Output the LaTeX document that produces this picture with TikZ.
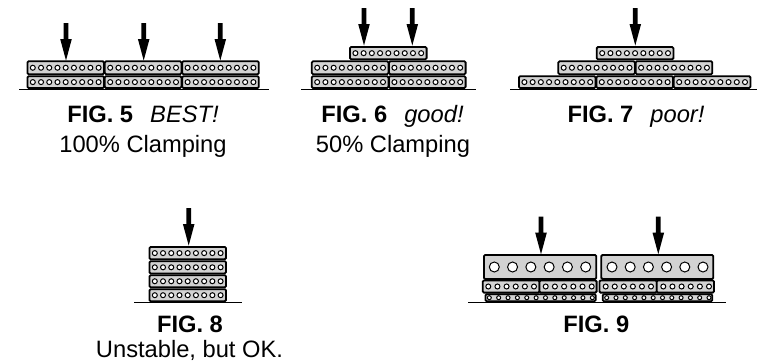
\documentclass[tikz,border=0pt]{standalone}
\usepackage{fontspec}
\setmainfont{Liberation Sans}
\definecolor{brickfill}{HTML}{D2D2D2}
\tikzset{
  x=1pt,y=-1pt,
  brick/.style={draw=black,fill=brickfill,line width=1.8pt,rounded corners=1.2pt},
  hole/.style={draw=black,fill=white,line width=1pt},
  ground/.style={draw=black,line width=1.5pt},
  figcap/.style={font=\fontsize{23.7}{28}\selectfont,anchor=base,inner sep=0pt,align=center}
}
% \brk{x0}{x1}{y0}{y1}{nholes}{first}{last}{r}
\newcommand{\brk}[8]{%
  \draw[brick] (#1,#3) rectangle (#2,#4);
  \pgfmathsetmacro{\hy}{(#3+#4)/2}
  \pgfmathsetmacro{\hstep}{(#7-#6)/(#5-1)}
  \foreach \i in {1,...,#5}{
    \pgfmathsetmacro{\hx}{#6+(\i-1)*\hstep}
    \draw[hole] (\hx,\hy) circle[radius=#8];
  }%
}
% standard 9-hole brick: left edge, top, bottom
\newcommand{\stdb}[3]{%
  \pgfmathsetmacro{\bxa}{#1}
  \pgfmathsetmacro{\bxb}{#1+76.6}
  \pgfmathsetmacro{\bha}{#1+5.4}
  \pgfmathsetmacro{\bhb}{#1+71.2}
  \brk{\bxa}{\bxb}{#2}{#3}{9}{\bha}{\bhb}{2.5}%
}
% arrow: x, top y
\newcommand{\press}[2]{%
  \fill[black] ({#1-2.4},#2) -- ({#1+2.4},#2) -- ({#1+2.4},{#2+16}) -- ({#1+5.8},{#2+16})
    -- (#1,{#2+37.5}) -- ({#1-5.8},{#2+16}) -- ({#1-2.4},{#2+16}) -- cycle;%
}
\begin{document}
\begin{tikzpicture}
\useasboundingbox (0,0) rectangle (764,362);
% FIG 5
\foreach \bx in {27.4,104.8,182.2}{\stdb{\bx}{61.3}{74.2}\stdb{\bx}{76.2}{88}}
\draw[ground] (19,89.4) -- (269,89.4);
\press{66}{23}\press{143.7}{23}\press{220.3}{23}
% FIG 6
\stdb{350}{47}{59.3}
\foreach \bx in {311.8,389}{\stdb{\bx}{61.3}{74.2}\stdb{\bx}{76.2}{88}}
\draw[ground] (301.3,89.4) -- (476,89.4);
\press{364}{8}\press{412.3}{8}
% FIG 7
\stdb{596.8}{47}{59.3}
\foreach \bx in {558.3,635.7}{\stdb{\bx}{61.3}{74.2}}
\foreach \bx in {519,596.4,673.8}{\stdb{\bx}{76.2}{88}}
\draw[ground] (510,89.4) -- (756.7,89.4);
\press{635.3}{8}
% FIG 8
\stdb{149.4}{247}{259.2}\stdb{149.4}{261.2}{273.4}\stdb{149.4}{275.2}{287.3}\stdb{149.4}{289.2}{301.2}
\draw[ground] (134,302.4) -- (242.3,302.4);
\press{188.7}{208}
% FIG 9
\brk{484}{596.3}{255}{279}{6}{494.3}{585.7}{5}
\brk{601.3}{713.3}{255}{279}{6}{612}{703}{5}
\brk{482.8}{539.4}{280.4}{292.6}{6}{488.3}{534}{2.5}
\brk{539.4}{596.6}{280.4}{292.6}{6}{545.7}{591.7}{2.5}
\brk{599.4}{656.8}{280.4}{292.6}{6}{605.7}{651}{2.5}
\brk{656.8}{714}{280.4}{292.6}{6}{663.3}{709}{2.5}
\brk{485.4}{595.7}{294.2}{301.2}{12}{489.3}{592.3}{2}
\brk{602.7}{712.3}{294.2}{301.2}{12}{606.7}{709}{2}
\draw[ground] (468,302.4) -- (725.7,302.4);
\press{541}{216.7}\press{658.3}{216.7}
% captions
\node[figcap] (c5a) at (143,122.7) {\textbf{FIG. 5}\hspace{0.72em}\textit{BEST!}};
\node[figcap] (c5b) at (143,152.7) {100\% Clamping};
\node[figcap] (c6a) at (392.5,122.7) {\textbf{FIG. 6}\hspace{0.72em}\textit{good!}};
\node[figcap] (c6b) at (393,152.7) {50\% Clamping};
\node[figcap] (c7a) at (636,122.7) {\textbf{FIG. 7}\hspace{0.72em}\textit{poor!}};
\node[figcap] (c8a) at (190,332) {\textbf{FIG. 8}};
\node[figcap] (c8b) at (189.5,357.6) {Unstable, but OK.};
\node[figcap] (c9a) at (596.3,332) {\textbf{FIG. 9}};
\end{tikzpicture}
\end{document}
